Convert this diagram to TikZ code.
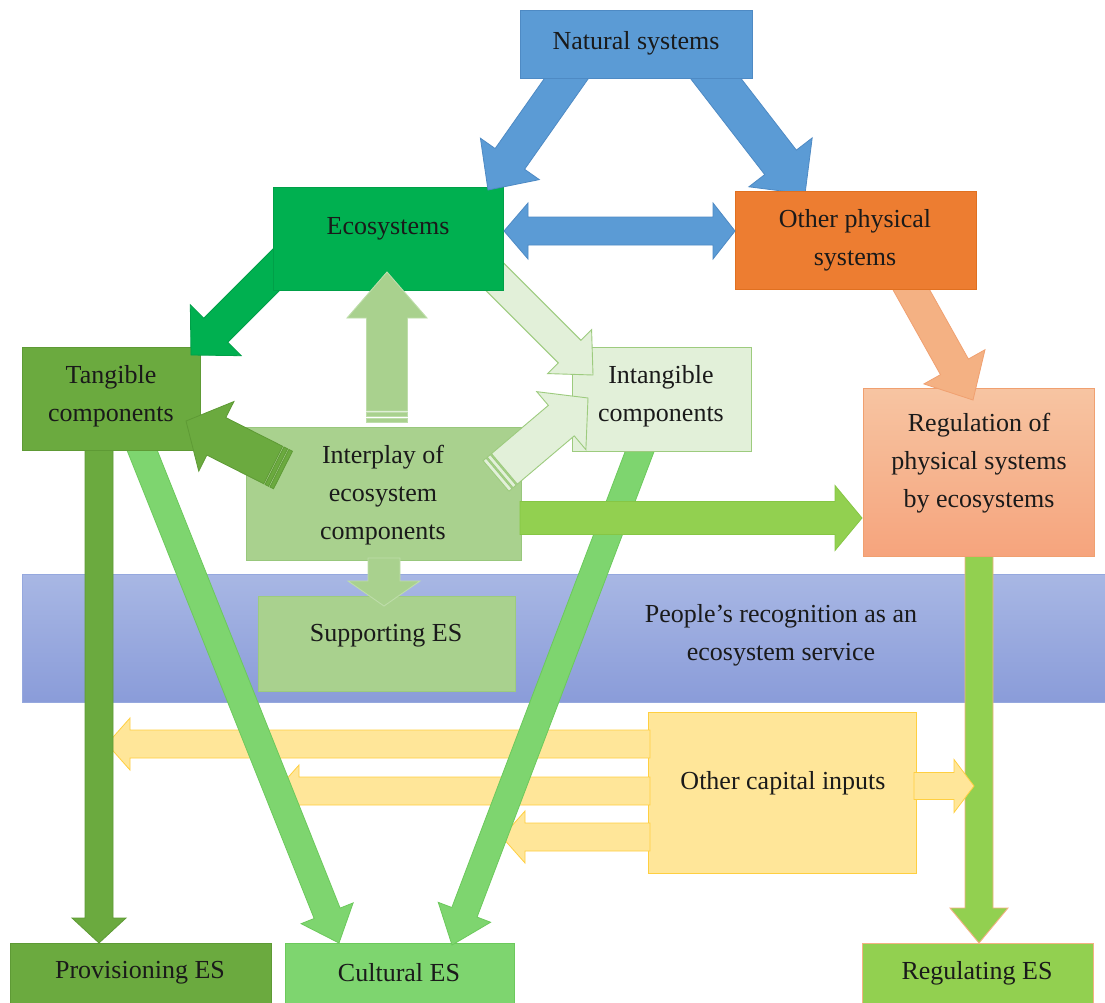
\documentclass[tikz,border=0pt]{standalone}
\usepackage{fontspec}
\setmainfont{Liberation Serif}
\usetikzlibrary{calc,fit}

% palette
\definecolor{natblue}{HTML}{5B9BD5}
\definecolor{natline}{HTML}{4E8AC4}
\definecolor{ecogreen}{HTML}{00B050}
\definecolor{ecoline}{HTML}{00A048}
\definecolor{orangebox}{HTML}{ED7D31}
\definecolor{orangeline}{HTML}{E07020}
\definecolor{darkgreen}{HTML}{6BAA3F}
\definecolor{darkgreenline}{HTML}{5E9A35}
\definecolor{palegreen}{HTML}{E2F0D9}
\definecolor{paleline}{HTML}{9DCB7E}
\definecolor{midgreen}{HTML}{A9D18E}
\definecolor{midgreenline}{HTML}{98C77C}
\definecolor{lightgreen}{HTML}{7ED56F}
\definecolor{lightgreenline}{HTML}{6CC95C}
\definecolor{limegreen}{HTML}{92D050}
\definecolor{limeline}{HTML}{86C644}
\definecolor{salmon}{HTML}{F4B183}
\definecolor{salmonline}{HTML}{F0A070}
\definecolor{yellowbox}{HTML}{FFE699}
\definecolor{yellowline}{HTML}{FFCF40}
\definecolor{bandtop}{HTML}{A8B7E4}
\definecolor{bandbot}{HTML}{8A9CD9}
\definecolor{bandline}{HTML}{95A8DE}
\definecolor{inktext}{HTML}{1A1A1A}

% block arrow: style, from, to, half shaft, half head, head length
\newcommand\blockarrow[6]{%
  \coordinate (ba-h) at ($(#3)!#6!(#2)$);
  \draw[#1] ($(#2)!#4!90:(#3)$) -- ($(ba-h)!#4!-90:(#2)$) -- ($(ba-h)!#5!-90:(#2)$)
    -- (#3) -- ($(ba-h)!#5!90:(#2)$) -- ($(ba-h)!#4!90:(#2)$)
    -- ($(#2)!#4!-90:(#3)$) -- cycle;
}
% striped-tail block arrow, same arguments
\newcommand\stripedarrow[6]{%
  \coordinate (sa-1) at ($(#2)!4pt!(#3)$);
  \coordinate (sa-2) at ($(#2)!5.5pt!(#3)$);
  \coordinate (sa-3) at ($(#2)!9.5pt!(#3)$);
  \coordinate (sa-4) at ($(#2)!11pt!(#3)$);
  \draw[#1] ($(#2)!#4!90:(#3)$) -- ($(sa-1)!#4!-90:(#2)$) -- ($(sa-1)!#4!90:(#2)$)
    -- ($(#2)!#4!-90:(#3)$) -- cycle;
  \draw[#1] ($(sa-2)!#4!90:(#3)$) -- ($(sa-3)!#4!-90:(sa-2)$) -- ($(sa-3)!#4!90:(sa-2)$)
    -- ($(sa-2)!#4!-90:(#3)$) -- cycle;
  \blockarrow{#1}{sa-4}{#3}{#4}{#5}{#6}
}

\tikzset{
  box/.style={draw, line width=0.9pt, inner sep=0pt, outer sep=0pt, rectangle},
  txt/.style={font=\fontsize{26}{38}\selectfont, text=inktext, align=center, inner sep=0pt},
  blue arrow/.style={fill=natblue, draw=natline, line width=0.8pt},
  eco arrow/.style={fill=ecogreen, draw=ecoline, line width=0.8pt},
  dark arrow/.style={fill=darkgreen, draw=darkgreenline, line width=0.8pt},
  pale arrow/.style={fill=palegreen, draw=paleline, line width=0.9pt},
  mid arrow/.style={fill=midgreen, draw=midgreen!75!white, line width=0.9pt},
  light arrow/.style={fill=lightgreen, draw=lightgreenline, line width=0.8pt},
  lime arrow/.style={fill=limegreen, draw=limeline, line width=0.8pt},
  reg arrow/.style={fill=limegreen, draw=salmon, line width=0.9pt},
  salmon arrow/.style={fill=salmon, draw=salmonline, line width=0.8pt},
  yellow arrow/.style={fill=yellowbox, draw=yellowline, line width=0.8pt},
}

\begin{document}
\begin{tikzpicture}[x=1pt, y=-1pt, line join=miter]
\useasboundingbox (0,0) rectangle (1105,1003);
\fill[white] (0,0) rectangle (1105,1003);
\clip (0,0) rectangle (1105,1003);

% recognition band and supporting services
\node[box, draw=bandline, top color=bandtop, bottom color=bandbot, fit={(22,574) (1112,702)}] (band) {};
\node[box, fill=midgreen, draw=paleline, fit={(258,596) (515,691)}] (supp) {};

% other capital inputs and its arrows
\node[box, fill=yellowbox, draw=yellowline, fit={(648,712) (916,873)}] (cap) {};
\coordinate (y1s) at (650,744);  \coordinate (y1t) at (107,744);
\coordinate (y2s) at (650,791);  \coordinate (y2t) at (276,791);
\coordinate (y3s) at (650,837);  \coordinate (y3t) at (502,837);
\coordinate (y4s) at (914,786);  \coordinate (y4t) at (974,786);
\blockarrow{yellow arrow}{y1s}{y1t}{14pt}{26pt}{23pt}
\blockarrow{yellow arrow}{y2s}{y2t}{14pt}{26pt}{23pt}
\blockarrow{yellow arrow}{y3s}{y3t}{14pt}{26pt}{23pt}

% ecosystem service boxes
\node[box, fill=darkgreen, draw=darkgreenline, fit={(10,943) (271,1010)}] (prov) {};
\node[box, fill=lightgreen, draw=lightgreenline, fit={(285,943) (514,1010)}] (cult) {};
\node[box, fill=limegreen, draw=salmon, fit={(862,943) (1093,1010)}] (reges) {};

% long arrows down to the services
\coordinate (tp-s) at (99,448);   \coordinate (tp-t) at (99,943);
\coordinate (tc-s) at (138,440);  \coordinate (tc-t) at (339,943);
\coordinate (ic-s) at (644,440);  \coordinate (ic-t) at (452,945);
\coordinate (rr-s) at (979,553);  \coordinate (rr-t) at (979,943);
\blockarrow{dark arrow}{tp-s}{tp-t}{14pt}{27pt}{25pt}
\blockarrow{light arrow}{tc-s}{tc-t}{14pt}{28pt}{32pt}
\blockarrow{light arrow}{ic-s}{ic-t}{13.5pt}{28pt}{35pt}
\blockarrow{reg arrow}{rr-s}{rr-t}{14pt}{29pt}{35pt}
\blockarrow{yellow arrow}{y4s}{y4t}{13.5pt}{26.5pt}{20pt}

% regulation of physical systems
\node[box, draw=salmonline, top color=salmon!75!white, bottom color=salmon!90!red!95!white, fit={(863,388) (1094,556)}] (reg) {};
\coordinate (or-s) at (903,275);  \coordinate (or-t) at (973,400);
\blockarrow{salmon arrow}{or-s}{or-t}{16pt}{35pt}{38pt}

% ecosystem components
\node[box, fill=darkgreen, draw=darkgreenline, fit={(22,347) (200,450)}] (tang) {};
\node[box, fill=palegreen, draw=paleline, fit={(572,347) (751,451)}] (intang) {};
\node[box, fill=midgreen, draw=midgreenline, fit={(246,427) (521,560)}] (inter) {};

\coordinate (et-s) at (300,246);  \coordinate (et-t) at (191,355);
\coordinate (ei-s) at (470,252);  \coordinate (ei-t) at (593,375);
\blockarrow{eco arrow}{et-s}{et-t}{17pt}{36pt}{35pt}
\blockarrow{pale arrow}{ei-s}{ei-t}{16pt}{31pt}{33pt}

\coordinate (it-s) at (283,470);  \coordinate (it-t) at (186,421);
\coordinate (ii-s) at (496,476);  \coordinate (ii-t) at (588,398);
\stripedarrow{dark arrow}{it-s}{it-t}{21pt}{39pt}{34pt}
\stripedarrow{pale arrow}{ii-s}{ii-t}{20pt}{38pt}{35pt}

\coordinate (ir-s) at (520,518);  \coordinate (ir-t) at (862,518);
\coordinate (is-s) at (384,558);  \coordinate (is-t) at (384,606);
\blockarrow{lime arrow}{ir-s}{ir-t}{16.5pt}{32.5pt}{27pt}
\blockarrow{mid arrow}{is-s}{is-t}{16pt}{36pt}{25pt}

% ecosystems
\node[box, fill=ecogreen, draw=ecoline, fit={(273,187) (503,290)}] (eco) {};
\coordinate (ie-s) at (387,422);  \coordinate (ie-t) at (387,272);
\stripedarrow{mid arrow}{ie-s}{ie-t}{20.5pt}{40pt}{46pt}

% natural systems and its two branches
\coordinate (ne-s) at (578,62);   \coordinate (ne-t) at (488,190);
\coordinate (no-s) at (703,62);   \coordinate (no-t) at (805,194);
\blockarrow{blue arrow}{ne-s}{ne-t}{18pt}{36pt}{38pt}
\blockarrow{blue arrow}{no-s}{no-t}{20pt}{40pt}{40pt}
\node[box, fill=natblue, draw=natline, fit={(520,10) (752,78)}] (nat) {};
\node[box, fill=orangebox, draw=orangeline, fit={(735,191) (976,289)}] (oth) {};

% two-way exchange between ecosystems and other physical systems
\coordinate (eo-a) at (504,231);  \coordinate (eo-b) at (735,231);
\draw[blue arrow] (eo-a) -- ($(eo-a)+(24,-28)$) -- ($(eo-a)+(24,-14)$) -- ($(eo-b)+(-22,-14)$)
  -- ($(eo-b)+(-22,-28)$) -- (eo-b) -- ($(eo-b)+(-22,28)$) -- ($(eo-b)+(-22,14)$)
  -- ($(eo-a)+(24,14)$) -- ($(eo-a)+(24,28)$) -- cycle;

% labels
\node[txt] (nat-t) at (636,43) {Natural systems};
\node[txt] (eco-t) at (388,229) {Ecosystems};
\node[txt] (oth-t) at (855,240) {Other physical\\systems};
\node[txt] (tang-t) at (111,396) {Tangible\\components};
\node[txt] (intang-t) at (661,396) {Intangible\\components};
\node[txt] (inter-t) at (383,495) {Interplay of\\ecosystem\\components};
\node[txt] (reg-t) at (979,463) {Regulation of\\physical systems\\by ecosystems};
\node[txt] (band-t) at (781,635) {People’s recognition as an\\ecosystem service};
\node[txt] (supp-t) at (386,636) {Supporting ES};
\node[txt] (cap-t) at (783,783) {Other capital inputs};
\node[txt] (prov-t) at (140,973) {Provisioning ES};
\node[txt] (cult-t) at (399,973) {Cultural ES};
\node[txt] (reges-t) at (977,973) {Regulating ES};
\end{tikzpicture}
\end{document}
